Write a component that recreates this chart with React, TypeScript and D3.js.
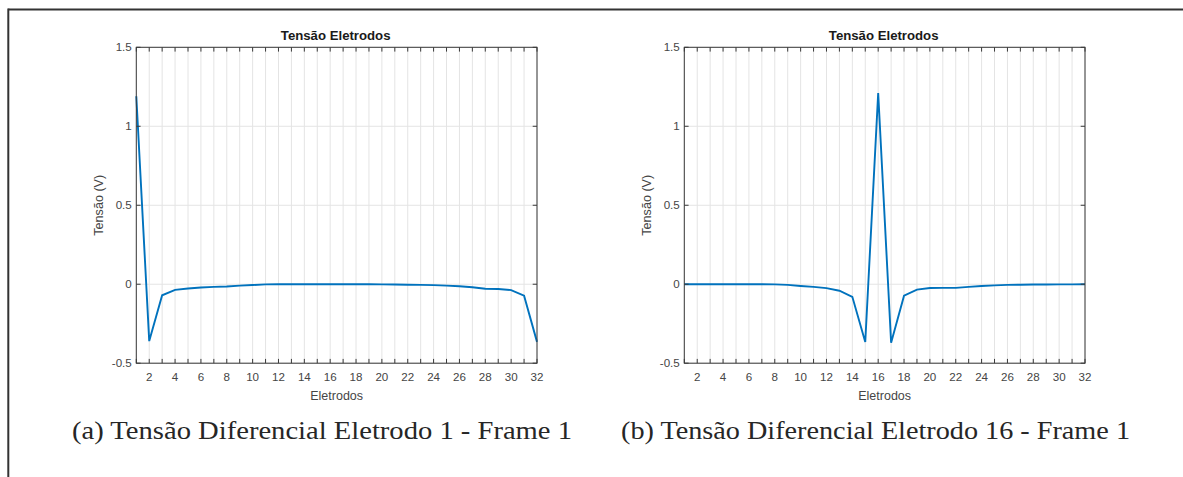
import React from "react";
import * as d3 from "d3";

// Electrode indices 1..32
const electrodes: number[] = [
  1, 2, 3, 4, 5, 6, 7, 8, 9, 10, 11, 12, 13, 14, 15, 16,
  17, 18, 19, 20, 21, 22, 23, 24, 25, 26, 27, 28, 29, 30, 31, 32,
];

// Differential voltage, injection at electrode 1, frame 1
const voltageE1: number[] = [
  1.19, -0.36, -0.07, -0.036, -0.027, -0.021, -0.017, -0.014, -0.009, -0.005,
  -0.001, 0, 0, 0, 0, 0, 0, 0, 0, -0.001, -0.002, -0.003, -0.004, -0.006,
  -0.009, -0.013, -0.019, -0.029, -0.03, -0.037, -0.073, -0.365,
];

// Differential voltage, injection at electrode 16, frame 1
const voltageE16: number[] = [
  0, 0, 0, 0, 0, 0, 0, -0.001, -0.004, -0.011, -0.017, -0.025, -0.041, -0.08,
  -0.366, 1.21, -0.37, -0.073, -0.034, -0.024, -0.023, -0.023, -0.017, -0.011,
  -0.007, -0.004, -0.003, -0.002, -0.002, -0.001, -0.001, 0,
];

const xTickLabels: number[] = [2, 4, 6, 8, 10, 12, 14, 16, 18, 20, 22, 24, 26, 28, 30, 32];
const yTicks: number[] = [-0.5, 0, 0.5, 1, 1.5];

const captions: string[] = [
  "(a) Tensão Diferencial Eletrodo 1 - Frame 1",
  "(b) Tensão Diferencial Eletrodo 16 - Frame 1",
];

const W = 1183;
const H = 477;
const TOP = 47.3;
const BOTTOM = 363.2;
const LINE_COLOR = "#0072BD";
const AXIS_COLOR = "#3a3a3a";
const GRID_COLOR = "#e4e4e4";
const SANS = "'Liberation Sans', Arial, Helvetica, sans-serif";
const SERIF = "'Liberation Serif', 'Times New Roman', serif";

type PanelProps = {
  left: number;
  right: number;
  values: number[];
  caption: string;
  captionX: number;
  captionWidth: number;
};

function Panel({ left, right, values, caption, captionX, captionWidth }: PanelProps) {
  const x = d3.scaleLinear().domain([1, 32]).range([left, right]);
  const y = d3.scaleLinear().domain([-0.5, 1.5]).range([BOTTOM, TOP]);
  const line = d3
    .line<number>()
    .x((_, i) => x(electrodes[i]))
    .y((v) => y(v));
  const cx = (left + right) / 2;
  const tickLen = 4.3;

  return (
    <g>
      {/* grid */}
      {electrodes.map((e) => (
        <line key={"gx" + e} x1={x(e)} x2={x(e)} y1={TOP} y2={BOTTOM} stroke={GRID_COLOR} strokeWidth={1} />
      ))}
      {yTicks.map((t) => (
        <line key={"gy" + t} x1={left} x2={right} y1={y(t)} y2={y(t)} stroke={GRID_COLOR} strokeWidth={1} />
      ))}

      {/* data */}
      <path d={line(values) || ""} fill="none" stroke={LINE_COLOR} strokeWidth={1.9} strokeLinejoin="miter" />

      {/* box */}
      <rect x={left} y={TOP} width={right - left} height={BOTTOM - TOP} fill="none" stroke={AXIS_COLOR} strokeWidth={1} />

      {/* x ticks, top and bottom */}
      {electrodes.map((e) => (
        <g key={"tx" + e}>
          <line x1={x(e)} x2={x(e)} y1={BOTTOM} y2={BOTTOM - tickLen} stroke={AXIS_COLOR} strokeWidth={1} />
          <line x1={x(e)} x2={x(e)} y1={TOP} y2={TOP + tickLen} stroke={AXIS_COLOR} strokeWidth={1} />
        </g>
      ))}
      {/* y ticks, left and right */}
      {yTicks.map((t) => (
        <g key={"ty" + t}>
          <line x1={left} x2={left + tickLen} y1={y(t)} y2={y(t)} stroke={AXIS_COLOR} strokeWidth={1} />
          <line x1={right} x2={right - tickLen} y1={y(t)} y2={y(t)} stroke={AXIS_COLOR} strokeWidth={1} />
        </g>
      ))}

      {/* tick labels */}
      {xTickLabels.map((e) => (
        <text key={"lx" + e} x={x(e)} y={381.2} textAnchor="middle" fontFamily={SANS} fontSize={11.6} fill="#454545">
          {e}
        </text>
      ))}
      {yTicks.map((t) => (
        <text key={"ly" + t} x={left - 4.5} y={y(t) + 4.1} textAnchor="end" fontFamily={SANS} fontSize={11.6} fill="#454545">
          {String(t)}
        </text>
      ))}

      {/* title and axis labels */}
      <text x={cx - 1} y={40.3} textAnchor="middle" fontFamily={SANS} fontSize={13.2} fontWeight="bold" fill="#1a1a1a">
        Tensão Eletrodos
      </text>
      <text x={cx} y={400.2} textAnchor="middle" fontFamily={SANS} fontSize={12.5} fill="#454545">
        Eletrodos
      </text>
      <text
        transform={`translate(${left - 33},${(TOP + BOTTOM) / 2}) rotate(-90)`}
        textAnchor="middle"
        fontFamily={SANS}
        fontSize={12.6}
        fill="#454545"
      >
        Tensão (V)
      </text>

      {/* caption */}
      <text
        x={captionX}
        y={438.5}
        fontFamily={SERIF}
        fontSize={25}
        fill="#262626"
        textLength={captionWidth}
        lengthAdjust="spacingAndGlyphs"
      >
        {caption}
      </text>
    </g>
  );
}

export default function App() {
  return (
    <svg
      width={W}
      height={H}
      viewBox={`0 0 ${W} ${H}`}
      style={{ position: "absolute", left: 0, top: 0, display: "block", background: "#fff" }}
    >
      <rect x={0} y={0} width={W} height={H} fill="#fff" />
      {/* page frame */}
      <line x1={8.3} x2={W} y1={9.5} y2={9.5} stroke="#333" strokeWidth={2} />
      <line x1={8.3} x2={8.3} y1={8.5} y2={H} stroke="#333" strokeWidth={2} />

      <Panel left={136.3} right={537} values={voltageE1} caption={captions[0]} captionX={72} captionWidth={500} />
      <Panel left={684.3} right={1085} values={voltageE16} caption={captions[1]} captionX={621} captionWidth={509} />
    </svg>
  );
}
